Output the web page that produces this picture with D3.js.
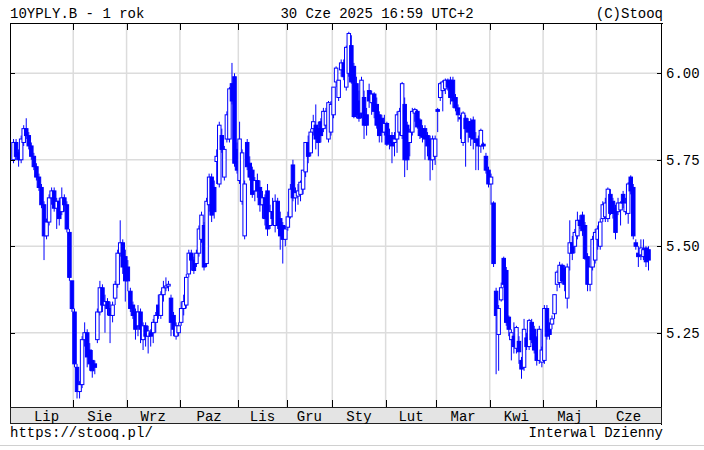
<!DOCTYPE html>
<html>
<head>
<meta charset="utf-8">
<script src="https://cdn.jsdelivr.net/npm/d3@7"></script>
<style>
  body { margin: 0; background: #fff; }
  svg text { font-family: "Liberation Mono", "DejaVu Sans Mono", monospace; font-size: 14px; fill: #000; }
</style>
</head>
<body>
<div id="chart"></div>
<script>
(function () {
  'use strict';

  // data: daily sessions, 10Y PL bond yield (one line per month)
  var months = ['Lip', 'Sie', 'Wrz', 'Paz', 'Lis', 'Gru', 'Sty', 'Lut', 'Mar', 'Kwi', 'Maj', 'Cze'];
  var monthStart = [3, 24, 45, 66, 89, 108, 126, 147, 167, 188, 209, 230];
  var yTicks = [5.25, 5.50, 5.75, 6.00];

  var opens = [
    5.75,5.80,5.77,5.75,5.80,5.84,5.82,5.79,5.76,5.73,5.70,5.67,5.62,5.53,5.57,5.64,5.66,5.61,5.63,5.60,5.64,5.62,5.54,5.40,
    5.31,5.15,5.08,5.10,5.23,5.25,5.20,5.17,5.16,5.23,5.31,5.38,5.33,5.34,5.32,5.30,5.35,5.39,5.48,5.51,5.47,
    5.44,5.37,5.33,5.31,5.27,5.31,5.23,5.27,5.24,5.25,5.25,5.28,5.33,5.30,5.36,5.38,5.385,5.35,5.30,5.24,5.25,
    5.28,5.32,5.33,5.42,5.48,5.46,5.45,5.48,5.52,5.56,5.45,5.62,5.70,5.67,5.745,5.68,5.82,5.70,5.81,5.81,5.97,5.99,5.78,
    5.69,5.63,5.53,5.80,5.74,5.72,5.66,5.69,5.67,5.62,5.64,5.66,5.56,5.60,5.56,5.63,5.58,5.56,5.52,
    5.555,5.585,5.735,5.64,5.645,5.65,5.665,5.715,5.80,5.77,5.84,5.85,5.84,5.86,5.84,5.85,5.81,5.83,
    5.88,5.975,5.93,6.01,6.03,5.96,6.00,6.08,6.02,5.97,5.92,5.885,5.93,5.88,5.95,5.915,5.94,5.91,5.88,5.87,5.83,
    5.855,5.82,5.82,5.80,5.81,5.83,5.82,5.91,5.85,5.80,5.83,5.885,5.89,5.865,5.84,5.84,5.82,5.81,5.75,5.76,
    5.895,5.93,5.95,5.955,5.98,5.98,5.98,5.93,5.90,5.872,5.80,5.87,5.86,5.86,5.865,5.81,5.81,5.79,5.795,5.76,5.72,
    5.68,5.625,5.37,5.245,5.345,5.465,5.43,5.295,5.23,5.24,5.205,5.225,5.17,5.15,5.235,5.21,5.28,5.26,5.235,5.17,5.165,
    5.17,5.32,5.26,5.275,5.305,5.39,5.395,5.445,5.435,5.35,5.48,5.51,5.50,5.53,5.575,5.59,5.56,5.47,5.39,5.44,5.46,
    5.52,5.50,5.58,5.585,5.58,5.65,5.63,5.61,5.60,5.605,5.65,5.60,5.595,5.70,5.67,5.51,5.48,5.475,5.47,5.495,5.49
  ];

  var highs = [
    5.81,5.81,5.78,5.82,5.85,5.87,5.83,5.80,5.77,5.74,5.71,5.68,5.63,5.58,5.65,5.67,5.67,5.64,5.64,5.67,5.65,5.63,5.55,5.40,
    5.32,5.16,5.11,5.24,5.28,5.26,5.22,5.20,5.17,5.32,5.40,5.39,5.36,5.35,5.34,5.34,5.40,5.49,5.575,5.52,5.49,
    5.46,5.38,5.34,5.32,5.33,5.32,5.28,5.28,5.27,5.26,5.29,5.31,5.36,5.37,5.40,5.41,5.40,5.36,5.31,5.28,5.28,
    5.34,5.36,5.42,5.49,5.49,5.47,5.49,5.56,5.60,5.57,5.64,5.71,5.71,5.69,5.78,5.86,5.84,5.79,5.89,5.96,6.03,6.00,5.80,
    5.86,5.78,5.69,5.81,5.76,5.73,5.70,5.71,5.69,5.66,5.65,5.68,5.62,5.64,5.65,5.64,5.60,5.57,5.56,
    5.60,5.68,5.75,5.67,5.68,5.69,5.72,5.80,5.82,5.84,5.88,5.91,5.86,5.87,5.90,5.90,5.92,5.92,
    5.96,6.02,5.98,6.04,6.04,6.08,6.12,6.11,6.03,5.99,5.95,5.99,5.95,5.90,5.97,5.95,5.945,5.93,5.89,5.88,5.88,
    5.86,5.84,5.83,5.83,5.89,5.90,5.975,5.93,5.86,5.84,5.90,5.90,5.895,5.87,5.85,5.85,5.83,5.82,5.82,5.82,
    5.90,5.975,5.98,5.985,5.985,5.99,5.99,5.94,5.91,5.88,5.89,5.88,5.87,5.87,5.875,5.83,5.82,5.84,5.80,5.77,5.73,
    5.71,5.63,5.38,5.33,5.395,5.47,5.44,5.30,5.26,5.28,5.27,5.24,5.18,5.29,5.25,5.29,5.29,5.27,5.24,5.27,5.21,
    5.33,5.33,5.28,5.30,5.36,5.43,5.455,5.45,5.445,5.45,5.575,5.53,5.55,5.60,5.59,5.60,5.57,5.48,5.44,5.53,5.55,
    5.56,5.58,5.63,5.64,5.67,5.665,5.64,5.62,5.64,5.63,5.66,5.64,5.685,5.705,5.68,5.52,5.50,5.52,5.52,5.50,5.50
  ];

  var lows = [
    5.74,5.75,5.73,5.74,5.79,5.81,5.78,5.75,5.72,5.69,5.66,5.61,5.46,5.52,5.56,5.62,5.60,5.55,5.56,5.59,5.60,5.54,5.40,5.31,
    5.15,5.06,5.06,5.09,5.21,5.15,5.14,5.12,5.13,5.22,5.30,5.31,5.25,5.30,5.22,5.28,5.33,5.38,5.47,5.42,5.34,
    5.37,5.31,5.29,5.23,5.24,5.22,5.20,5.21,5.19,5.21,5.22,5.25,5.29,5.29,5.34,5.37,5.37,5.24,5.24,5.23,5.24,
    5.27,5.30,5.32,5.41,5.43,5.42,5.44,5.47,5.51,5.43,5.44,5.60,5.57,5.58,5.68,5.67,5.77,5.69,5.80,5.80,5.91,5.73,5.71,
    5.68,5.62,5.52,5.72,5.69,5.64,5.63,5.64,5.60,5.58,5.56,5.53,5.55,5.56,5.54,5.55,5.49,5.45,5.50,
    5.545,5.58,5.63,5.60,5.62,5.63,5.65,5.70,5.74,5.76,5.82,5.78,5.76,5.80,5.83,5.84,5.80,5.82,
    5.87,5.96,5.92,5.99,5.98,5.95,5.99,5.97,5.87,5.87,5.86,5.87,5.81,5.82,5.90,5.88,5.87,5.84,5.80,5.80,5.82,
    5.79,5.78,5.74,5.76,5.77,5.82,5.81,5.70,5.72,5.76,5.82,5.86,5.84,5.81,5.80,5.75,5.76,5.69,5.72,5.735,
    5.83,5.92,5.89,5.94,5.95,5.91,5.90,5.89,5.86,5.81,5.79,5.73,5.80,5.79,5.78,5.72,5.72,5.77,5.78,5.71,5.67,
    5.62,5.44,5.13,5.14,5.34,5.38,5.27,5.24,5.17,5.19,5.19,5.16,5.117,5.14,5.20,5.20,5.22,5.19,5.155,5.16,5.15,
    5.16,5.23,5.23,5.26,5.29,5.37,5.38,5.39,5.37,5.32,5.43,5.46,5.48,5.52,5.55,5.53,5.46,5.37,5.37,5.43,5.45,
    5.49,5.49,5.57,5.57,5.57,5.59,5.58,5.52,5.59,5.56,5.61,5.59,5.565,5.65,5.52,5.49,5.44,5.46,5.46,5.44,5.43
  ];

  var closes = [
    5.80,5.76,5.75,5.81,5.84,5.82,5.79,5.76,5.73,5.70,5.67,5.62,5.53,5.57,5.64,5.66,5.61,5.63,5.58,5.64,5.62,5.55,5.41,5.32,
    5.16,5.08,5.10,5.23,5.25,5.18,5.16,5.14,5.15,5.31,5.38,5.33,5.34,5.32,5.30,5.33,5.39,5.48,5.51,5.44,5.40,
    5.40,5.32,5.30,5.26,5.31,5.26,5.27,5.24,5.255,5.24,5.28,5.30,5.30,5.36,5.38,5.385,5.39,5.28,5.26,5.27,5.27,
    5.32,5.34,5.41,5.48,5.46,5.43,5.48,5.55,5.59,5.44,5.63,5.70,5.59,5.60,5.76,5.85,5.78,5.78,5.88,5.955,5.92,5.74,5.72,
    5.81,5.77,5.68,5.73,5.70,5.65,5.69,5.66,5.62,5.64,5.58,5.55,5.60,5.58,5.63,5.56,5.53,5.52,5.55,
    5.585,5.665,5.64,5.655,5.66,5.685,5.72,5.80,5.76,5.83,5.86,5.81,5.80,5.82,5.89,5.89,5.915,5.91,
    5.96,6.015,5.98,6.03,5.99,6.075,6.115,5.975,5.875,5.88,5.87,5.98,5.85,5.85,5.92,5.94,5.89,5.85,5.82,5.83,5.855,
    5.795,5.80,5.79,5.81,5.88,5.89,5.97,5.75,5.75,5.83,5.89,5.895,5.845,5.82,5.815,5.81,5.79,5.75,5.81,5.81,
    5.89,5.97,5.975,5.98,5.96,5.93,5.92,5.90,5.88,5.868,5.885,5.84,5.83,5.815,5.81,5.80,5.79,5.835,5.79,5.72,5.68,
    5.70,5.45,5.30,5.32,5.38,5.39,5.28,5.26,5.25,5.21,5.265,5.195,5.145,5.26,5.21,5.285,5.23,5.20,5.17,5.26,5.20,
    5.32,5.24,5.245,5.29,5.36,5.425,5.445,5.40,5.39,5.44,5.51,5.48,5.54,5.575,5.56,5.545,5.465,5.39,5.44,5.52,5.54,
    5.55,5.57,5.62,5.625,5.665,5.595,5.595,5.54,5.625,5.625,5.625,5.625,5.68,5.66,5.53,5.50,5.47,5.495,5.49,5.455,5.46
  ];

  var candles = opens.map(function (o, i) {
    return {i: i, o: o, h: highs[i], l: lows[i], c: closes[i]};
  });

  var W = 704, H = 450,
      left = 11, right = 661, top = 23, bottom = 407,
      blue = '#0000ff';

  var svg = d3.select('#chart').append('svg')
    .attr('width', W)
    .attr('height', H);

  var x = d3.scaleLinear()
    .domain([-0.5, 255.3])
    .range([left, right - 0.3]);

  var y = d3.scaleLinear()
    .domain([5.0353, 6.1454])
    .range([bottom, top]);

  // grid
  svg.append('g').selectAll('line')
    .data(yTicks)
    .enter().append('line')
    .attr('x1', left).attr('x2', right)
    .attr('y1', function (d) { return y(d); })
    .attr('y2', function (d) { return y(d); })
    .style('stroke', '#dcdcdc')
    .style('stroke-width', 1.5);

  svg.append('g').selectAll('line')
    .data(monthStart.slice(1))
    .enter().append('line')
    .attr('x1', function (d) { return x(d); })
    .attr('x2', function (d) { return x(d); })
    .attr('y1', top).attr('y2', bottom)
    .style('stroke', '#dcdcdc')
    .style('stroke-width', 1.5);

  // candles
  var g = svg.append('g');
  var bw = 3.5;

  g.selectAll('.wick')
    .data(candles)
    .enter().append('line')
    .attr('class', 'wick')
    .attr('x1', function (d) { return x(d.i + 0.5); })
    .attr('x2', function (d) { return x(d.i + 0.5); })
    .attr('y1', function (d) { return y(d.h); })
    .attr('y2', function (d) { return y(d.l); })
    .style('stroke', blue)
    .style('stroke-width', 1);

  g.selectAll('.body')
    .data(candles)
    .enter().append('rect')
    .attr('class', 'body')
    .attr('x', function (d) { return x(d.i + 0.5) - bw / 2; })
    .attr('width', bw)
    .attr('y', function (d) { return y(Math.max(d.o, d.c)); })
    .attr('height', function (d) { return Math.max(1, Math.abs(y(d.o) - y(d.c))); })
    .style('fill', function (d) { return d.c >= d.o ? '#fff' : blue; })
    .style('stroke', blue)
    .style('stroke-width', 1);

  // frame
  var frame = svg.append('g').style('stroke', '#000').style('stroke-width', 1);
  frame.append('line').attr('x1', left - 1).attr('x2', right + 2).attr('y1', top + 0.5).attr('y2', top + 0.5);
  frame.append('line').attr('x1', left - 0.5).attr('x2', left - 0.5).attr('y1', top).attr('y2', bottom);
  frame.append('line').attr('x1', right + 0.5).attr('x2', right + 0.5).attr('y1', top).attr('y2', bottom + 18);

  // month ticks top and bottom
  frame.selectAll('.mt')
    .data(monthStart.slice(1))
    .enter().append('line')
    .attr('x1', function (d) { return Math.round(x(d)) + 0.5; })
    .attr('x2', function (d) { return Math.round(x(d)) + 0.5; })
    .attr('y1', top).attr('y2', top + 7);
  frame.selectAll('.mb')
    .data(monthStart.slice(1))
    .enter().append('line')
    .attr('x1', function (d) { return Math.round(x(d)) + 0.5; })
    .attr('x2', function (d) { return Math.round(x(d)) + 0.5; })
    .attr('y1', bottom - 7).attr('y2', bottom);

  // y ticks
  frame.selectAll('.yl')
    .data(yTicks)
    .enter().append('line')
    .attr('x1', left - 1).attr('x2', left + 4)
    .attr('y1', function (d) { return Math.round(y(d)) + 0.5; })
    .attr('y2', function (d) { return Math.round(y(d)) + 0.5; });
  frame.selectAll('.yr')
    .data(yTicks)
    .enter().append('line')
    .attr('x1', right - 4).attr('x2', right + 1)
    .attr('y1', function (d) { return Math.round(y(d)) + 0.5; })
    .attr('y2', function (d) { return Math.round(y(d)) + 0.5; });

  svg.append('g').selectAll('text')
    .data(yTicks)
    .enter().append('text')
    .attr('x', 666)
    .attr('y', function (d) { return y(d) + 5; })
    .text(function (d) { return d.toFixed(2); });

  // month band
  svg.append('rect')
    .attr('x', left - 0.5).attr('y', bottom + 0.5)
    .attr('width', right - left + 1).attr('height', 16)
    .style('fill', '#e4e4e4')
    .style('stroke', '#222')
    .style('stroke-width', 1);

  var ends = monthStart.slice(1).concat([255.3]);
  svg.append('g').selectAll('text')
    .data(months)
    .enter().append('text')
    .attr('x', function (d, i) { return (x(monthStart[i]) + x(ends[i])) / 2; })
    .attr('y', bottom + 14)
    .attr('text-anchor', 'middle')
    .text(function (d) { return d; });

  // header and footer
  svg.append('text').attr('x', 10).attr('y', 18).text('10YPLY.B - 1 rok');
  svg.append('text').attr('x', 377).attr('y', 18).attr('text-anchor', 'middle').text('30 Cze 2025 16:59 UTC+2');
  svg.append('text').attr('x', 663).attr('y', 18).attr('text-anchor', 'end').text('(C)Stooq');
  svg.append('text').attr('x', 10).attr('y', 437).text('https://stooq.pl/');
  svg.append('text').attr('x', 663).attr('y', 437).attr('text-anchor', 'end').text('Interwal Dzienny');

  svg.append('line')
    .attr('x1', 0).attr('x2', W)
    .attr('y1', 445.5).attr('y2', 445.5)
    .style('stroke', '#d0d0d0')
    .style('stroke-width', 1);
}());
</script>
</body>
</html>
